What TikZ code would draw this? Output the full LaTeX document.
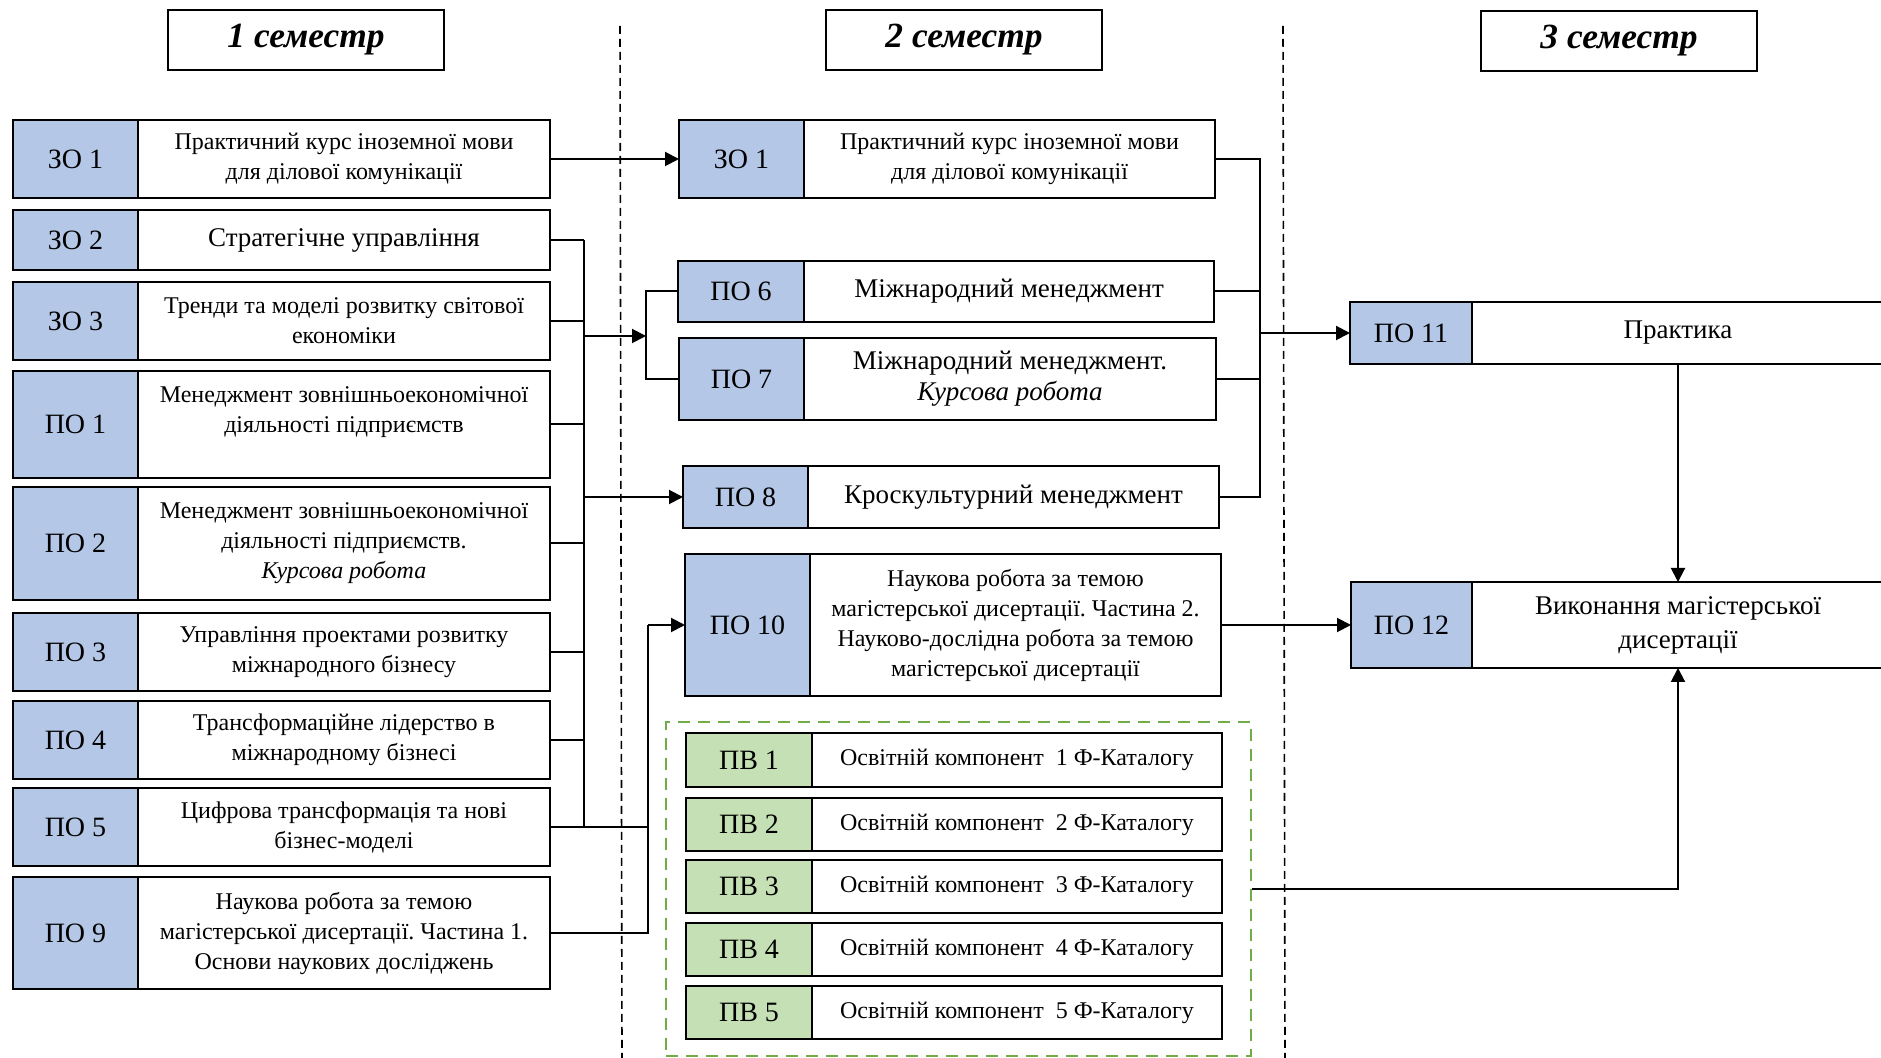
\documentclass[tikz,border=0pt]{standalone}
\usepackage{fontspec}
\setmainfont{Liberation Serif}
\usetikzlibrary{arrows.meta}
\definecolor{lblue}{HTML}{B4C7E7}
\definecolor{lgreen}{HTML}{C5E0B4}
\definecolor{dgreen}{HTML}{70AD47}
\newcommand\crow[9]{%
 \pgfmathsetmacro\cwl{(#3-#2)*0.5}%
 \pgfmathsetmacro\cwt{(#4-#3)*0.5}%
 \pgfmathsetmacro\chh{(#6-#5)*0.5}%
 \node[lbl, #7, minimum width=\cwl pt, minimum height=\chh pt, anchor=north west] (#1l) at (#2,#5) {#8};%
 \node[txt, tfont, minimum width=\cwt pt, minimum height=\chh pt, anchor=north west] (#1) at (#3,#5) {#9};%
}
\begin{document}
\frenchspacing
\begin{tikzpicture}[x=0.5pt,y=-0.5pt,
 lbl/.style={draw=black, line width=0.9pt, inner sep=0pt, outer sep=0pt, font=\fontsize{14pt}{16pt}\selectfont},
 txt/.style={draw=black, line width=0.9pt, fill=white, inner sep=0pt, outer sep=0pt, align=center},
 tfont/.style={font=\fontsize{12pt}{15pt}\selectfont},
 hdr/.style={draw=black, line width=0.9pt, minimum width=138pt, minimum height=30pt, inner sep=0pt, font=\fontsize{17.7pt}{20pt}\selectfont\bfseries\itshape},
 con/.style={line width=1pt},
 arr/.style={line width=1pt, -{Triangle[length=7pt,width=7pt]}},
 sep/.style={dash pattern=on 4pt off 2.5pt, line width=0.8pt}
]
\clip (0,0) rectangle (1881,1058);
\fill[white] (0,0) rectangle (1881,1058);

% semester headers
\node[hdr] (s1) at (306,40) {\raisebox{-2.5pt}{1 семестр}};
\node[hdr] (s2) at (964,40) {\raisebox{-2.5pt}{2 семестр}};
\node[hdr] (s3) at (1619,41) {\raisebox{-2.5pt}{3 семестр}};

% separators
\draw[sep] (620,26) -- (622,1058);
\draw[sep] (1283,26) -- (1285,1058);

% first semester
\crow{zoa}{13}{138}{550}{120}{198}{fill=lblue}{ЗО 1}{Практичний курс іноземної мови\\для ділової комунікації}
\tikzset{tfont/.style={font=\fontsize{13.5pt}{15.5pt}\selectfont}}
\crow{zob}{13}{138}{550}{210}{270}{fill=lblue}{ЗО 2}{Стратегічне управління}
\tikzset{tfont/.style={font=\fontsize{12pt}{15pt}\selectfont}}
\crow{zoc}{13}{138}{550}{282}{360}{fill=lblue}{ЗО 3}{Тренди та моделі розвитку світової\\економіки}
\crow{poa}{13}{138}{550}{371}{478}{fill=lblue}{ПО 1}{Менеджмент зовнішньоекономічної\\діяльності підприємств\\~}
\crow{pob}{13}{138}{550}{487}{600}{fill=lblue}{ПО 2}{Менеджмент зовнішньоекономічної\\діяльності підприємств.\\\textit{Курсова робота}}
\crow{poc}{13}{138}{550}{613}{691}{fill=lblue}{ПО 3}{Управління проектами розвитку\\міжнародного бізнесу}
\crow{pod}{13}{138}{550}{701}{779}{fill=lblue}{ПО 4}{Трансформаційне лідерство в\\міжнародному бізнесі}
\crow{poe}{13}{138}{550}{788}{866}{fill=lblue}{ПО 5}{Цифрова трансформація та нові\\бізнес-моделі}
\crow{poi}{13}{138}{550}{877}{989}{fill=lblue}{ПО 9}{Наукова робота за темою\\магістерської дисертації. Частина 1.\\Основи наукових досліджень}

% second semester
\crow{zom}{679}{804}{1215}{120}{198}{fill=lblue}{ЗО 1}{Практичний курс іноземної мови\\для ділової комунікації}
\crow{poj}{685}{810}{1221}{554}{696}{fill=lblue}{ПО 10}{Наукова робота за темою\\магістерської дисертації. Частина 2.\\Науково-дослідна робота за темою\\магістерської дисертації}
\tikzset{tfont/.style={font=\fontsize{13.5pt}{15.5pt}\selectfont}}
\crow{pof}{678}{804}{1214}{261}{322}{fill=lblue}{ПО 6}{Міжнародний менеджмент}
\crow{pog}{679}{804}{1216}{338}{420}{fill=lblue}{ПО 7}{Міжнародний менеджмент.\\\textit{Курсова робота}}
\crow{poh}{683}{808}{1219}{466}{528}{fill=lblue}{ПО 8}{Кроскультурний менеджмент}

% elective block
\node[draw=dgreen, line width=1pt, dash pattern=on 6pt off 4pt, minimum width=292.5pt, minimum height=167pt, inner sep=0pt, anchor=north west] (pv) at (665,721) {};
\tikzset{tfont/.style={font=\fontsize{12pt}{15pt}\selectfont}}
\crow{pva}{686}{812}{1222}{733}{787}{fill=lgreen}{ПВ 1}{Освітній компонент\ \ 1 Ф-Каталогу}
\crow{pvb}{686}{812}{1222}{798}{851}{fill=lgreen}{ПВ 2}{Освітній компонент\ \ 2 Ф-Каталогу}
\crow{pvc}{686}{812}{1222}{860}{913}{fill=lgreen}{ПВ 3}{Освітній компонент\ \ 3 Ф-Каталогу}
\crow{pvd}{686}{812}{1222}{923}{976}{fill=lgreen}{ПВ 4}{Освітній компонент\ \ 4 Ф-Каталогу}
\crow{pve}{686}{812}{1222}{986}{1039}{fill=lgreen}{ПВ 5}{Освітній компонент\ \ 5 Ф-Каталогу}

% third semester
\tikzset{tfont/.style={font=\fontsize{13.5pt}{17pt}\selectfont}}
\crow{pok}{1350}{1472}{1884}{302}{364}{fill=lblue}{ПО 11}{Практика}
\crow{pol}{1351}{1472}{1884}{582}{668}{fill=lblue}{ПО 12}{Виконання магістерської\\дисертації}

% connectors: semester 1 -> 2
\draw[arr] (zoa.east) -- (zoml.west);
\coordinate (b1a) at (584,240);
\coordinate (b1b) at (584,828);
\draw[con] (b1a) -- (b1b);
\foreach \n in {zob,zoc,poa,pob,poc,pod} \draw[con] (\n.east) -- (\n.east -| b1a);
\coordinate (j67) at (646,336);
\draw[arr] (j67 -| b1a) -- (j67);
\draw[con] (pofl.west) -| (j67);
\draw[con] (pogl.west) -| (j67);
\draw[arr] (pohl.west -| b1a) -- (pohl.west);
\coordinate (j10) at (648,625);
\draw[con] (poe.east) -- (poe.east -| j10);
\draw[con] (poi.east) -| (j10);
\draw[arr] (j10) -- (pojl.west);

% semester 2 -> 3
\coordinate (b2a) at (1260,159);
\draw[con] (zom.east) -| (poh.east -| b2a) -- (poh.east);
\draw[con] (pof.east) -- (pof.east -| b2a);
\draw[con] (pog.east) -- (pog.east -| b2a);
\draw[arr] (pokl.west -| b2a) -- (pokl.west);
\draw[arr] (pok.south) -- (pol.north);
\draw[arr] (poj.east) -- (poll.west);
\draw[arr] (pv.east) -| (pol.south);
\end{tikzpicture}
\end{document}
